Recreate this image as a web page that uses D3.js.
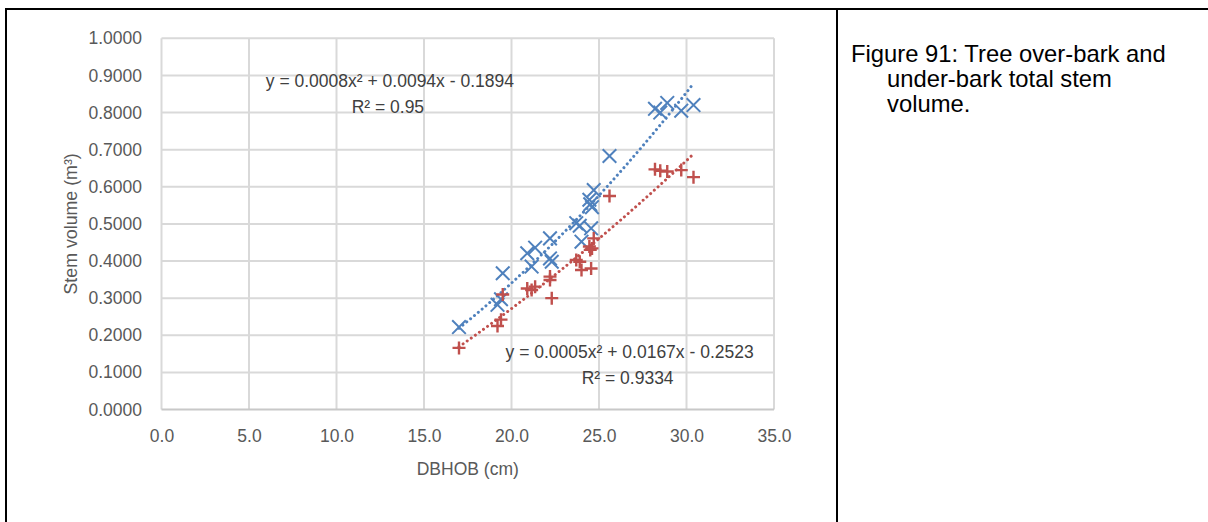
<!DOCTYPE html>
<html>
<head>
<meta charset="utf-8">
<script src="https://cdn.jsdelivr.net/npm/d3@7"></script>
<style>
  html, body { margin: 0; padding: 0; background: #fff; }
  svg { display: block; }
  text { font-family: "Liberation Sans", Arial, Helvetica, sans-serif; }
</style>
</head>
<body>
<svg id="chart" width="1208" height="522"></svg>
<script>
// ---- data ----
const dbhob = [17.0, 19.2, 19.4, 19.5, 20.9, 21.15, 21.35, 22.2, 22.2, 22.3, 23.7, 23.9, 24.0, 24.55, 24.45, 24.5, 24.6, 24.7, 25.6, 28.2, 28.5, 28.9, 29.7, 30.4];
const overBark = [0.222, 0.282, 0.297, 0.367, 0.421, 0.385, 0.436, 0.461, 0.407, 0.398, 0.502, 0.495, 0.452, 0.488, 0.565, 0.553, 0.545, 0.591, 0.683, 0.810, 0.800, 0.826, 0.805, 0.820];
const underBark = [0.166, 0.225, 0.242, 0.310, 0.326, 0.322, 0.331, 0.358, 0.349, 0.300, 0.403, 0.398, 0.376, 0.380, 0.439, 0.430, 0.434, 0.461, 0.575, 0.647, 0.643, 0.641, 0.645, 0.626];
const xTicks = [0, 5, 10, 15, 20, 25, 30, 35];
const yTicks = [0, 0.1, 0.2, 0.3, 0.4, 0.5, 0.6, 0.7, 0.8, 0.9, 1.0];
const overEq = ["y = 0.0008x² + 0.0094x - 0.1894", "R² = 0.95"];
const underEq = ["y = 0.0005x² + 0.0167x - 0.2523", "R² = 0.9334"];
const overEqAt = [13.05, 0.869];   // label anchor in data units
const underEqAt = [26.75, 0.138];
const xTitle = "DBHOB (cm)";
const yTitle = "Stem volume (m³)";
const caption = ["Figure 91: Tree over-bark and", "under-bark total stem", "volume."];

const blue = "#4f81bd", red = "#c0504d";

const svg = d3.select("#chart");
const x = d3.scaleLinear().domain([0, 35]).range([161.5, 774]);
const y = d3.scaleLinear().domain([0, 1]).range([409.5, 38.3]);

// frame (document table borders)
svg.append("line").attr("x1", 5).attr("x2", 1208).attr("y1", 9).attr("y2", 9).attr("stroke", "#000").attr("stroke-width", 2);
svg.append("line").attr("x1", 6).attr("x2", 6).attr("y1", 8).attr("y2", 522).attr("stroke", "#000").attr("stroke-width", 2);
svg.append("line").attr("x1", 837).attr("x2", 837).attr("y1", 8).attr("y2", 522).attr("stroke", "#000").attr("stroke-width", 2);

// gridlines
const grid = svg.append("g");
grid.selectAll(".gx").data(xTicks).join("line")
  .attr("x1", d => x(d)).attr("x2", d => x(d))
  .attr("y1", y(1)).attr("y2", y(0))
  .attr("stroke", "#d9d9d9").attr("stroke-width", 2);
grid.selectAll(".gy").data(yTicks).join("line")
  .attr("x1", x(0)).attr("x2", x(35))
  .attr("y1", d => y(d)).attr("y2", d => y(d))
  .attr("stroke", d => d === 0 ? "#c8c8c8" : "#d9d9d9").attr("stroke-width", 2);

// axes (labels only, Excel style)
const xAxis = d3.axisBottom(x).tickValues(xTicks).tickFormat(d3.format(".1f")).tickSize(0).tickPadding(20);
const gx = svg.append("g").attr("transform", `translate(0,${y(0)})`).call(xAxis);
gx.select(".domain").remove();
gx.selectAll("text").attr("font-size", 17.5).attr("fill", "#595959").attr("font-family", "Liberation Sans, Arial, sans-serif");

const yAxis = d3.axisLeft(y).tickValues(yTicks).tickFormat(d3.format(".4f")).tickSize(0).tickPadding(19.5);
const gy = svg.append("g").attr("transform", `translate(${x(0)},0)`).call(yAxis);
gy.select(".domain").remove();
gy.selectAll("text").attr("font-size", 17.5).attr("fill", "#595959").attr("font-family", "Liberation Sans, Arial, sans-serif");

// quadratic least-squares trend
function quadFit(xs, ys) {
  let S = Array.from({length: 5}, () => 0), T = [0, 0, 0];
  xs.forEach((xv, i) => {
    for (let k = 0; k < 5; k++) S[k] += Math.pow(xv, k);
    for (let k = 0; k < 3; k++) T[k] += ys[i] * Math.pow(xv, k);
  });
  const A = [[S[0], S[1], S[2], T[0]], [S[1], S[2], S[3], T[1]], [S[2], S[3], S[4], T[2]]];
  for (let c = 0; c < 3; c++) {
    for (let r = c + 1; r < 3; r++) {
      const f = A[r][c] / A[c][c];
      for (let k = c; k < 4; k++) A[r][k] -= f * A[c][k];
    }
  }
  const sol = [0, 0, 0];
  for (let r = 2; r >= 0; r--) {
    let s = A[r][3];
    for (let k = r + 1; k < 3; k++) s -= A[r][k] * sol[k];
    sol[r] = s / A[r][r];
  }
  return v => sol[0] + sol[1] * v + sol[2] * v * v;
}
function trend(ys, color) {
  const f = quadFit(dbhob, ys);
  const [lo, hi] = d3.extent(dbhob);
  const pts = d3.range(0, 61).map(i => lo + (hi - lo) * i / 60);
  svg.append("path")
    .attr("d", d3.line().x(d => x(d)).y(d => y(f(d)))(pts))
    .attr("fill", "none").attr("stroke", color).attr("stroke-width", 3)
    .attr("stroke-linecap", "round").attr("stroke-dasharray", "0.01 5");
}
trend(overBark, blue);
trend(underBark, red);

// markers
const pts = dbhob.map((d, i) => ({x: d, o: overBark[i], u: underBark[i]}));
svg.append("g").selectAll("path").data(pts).join("path")
  .attr("d", d => { const cx = x(d.x), cy = y(d.o), s = 6.8;
    return `M${cx - s},${cy - s}L${cx + s},${cy + s}M${cx - s},${cy + s}L${cx + s},${cy - s}`; })
  .attr("stroke", blue).attr("stroke-width", 2).attr("fill", "none");
svg.append("g").selectAll("path").data(pts).join("path")
  .attr("d", d => { const cx = x(d.x), cy = y(d.u), s = 6.5;
    return `M${cx - s},${cy}L${cx + s},${cy}M${cx},${cy - s}L${cx},${cy + s}`; })
  .attr("stroke", red).attr("stroke-width", 2.4).attr("fill", "none");

// equation labels
function eqLabel(lines, at) {
  const t = svg.append("text").attr("font-size", 17.5).attr("fill", "#404040").attr("text-anchor", "middle");
  lines.forEach((l, i) => {
    t.append("tspan").attr("x", x(at[0]) - (i ? 2 : 0)).attr("y", y(at[1]) + i * 25.8).text(l);
  });
}
eqLabel(overEq, overEqAt);
eqLabel(underEq, underEqAt);

// axis titles
svg.append("text").attr("x", (x(0) + x(35)) / 2).attr("y", 474.5).attr("text-anchor", "middle")
  .attr("font-size", 17.5).attr("fill", "#595959").text(xTitle);
svg.append("text").attr("transform", `translate(77,${(y(0) + y(1)) / 2}) rotate(-90)`).attr("text-anchor", "middle")
  .attr("font-size", 17.8).attr("fill", "#595959").text(yTitle);

// caption
const cap = svg.append("text").attr("font-size", 23.8).attr("fill", "#000");
caption.forEach((c, i) => {
  cap.append("tspan").attr("x", i ? 887 : 851).attr("y", 61.7 + i * 25).text(c);
});
</script>
</body>
</html>
